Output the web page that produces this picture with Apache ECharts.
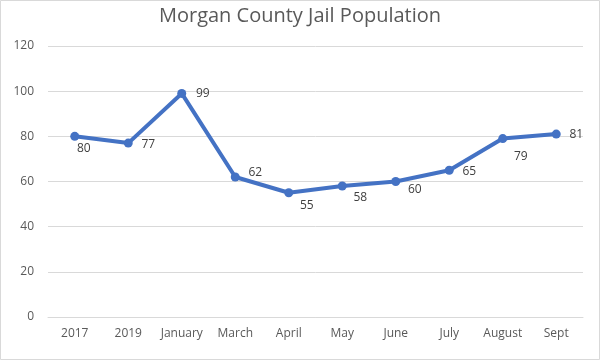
<!DOCTYPE html>
<html><head><meta charset="utf-8">
<script src="https://cdn.jsdelivr.net/npm/echarts@6/dist/echarts.min.js"></script>
<style>html,body{margin:0;padding:0;background:#fff}#c{width:600px;height:360px}</style>
</head><body><div id="c"></div>
<script>
const categories = ['2017','2019','January','March','April','May','June','July','August','Sept'];
const population = [80, 77, 99, 62, 55, 58, 60, 65, 79, 81];
const labelOffsets = [[9,12],[20,1],[21,0],[20,-4],[18,13],[18,12],[19,8],[20,1],[18,18],[20,1]];
const yTicks = {min: 0, max: 120, interval: 20};

const chart = echarts.init(document.getElementById('c'));
chart.setOption({
  animation: false,
  backgroundColor: '#fff',
  title: {
    text: 'Morgan County Jail Population',
    left: 'center', top: 1,
    textStyle: {fontFamily: 'Open Sans', fontSize: 20, fontWeight: 'normal', color: '#595959'}
  },
  graphic: [{type:'rect', shape:{x:0.5,y:0.5,width:599,height:359}, style:{fill:'none', stroke:'#d9d9d9', lineWidth:1}}],
  grid: {left: 48, right: 17, top: 46, bottom: 43},
  xAxis: {
    type: 'category', data: categories, boundaryGap: true,
    axisLine: {show: true, lineStyle: {color: '#d9d9d9'}},
    axisTick: {show: false},
    axisLabel: {color: '#595959', fontSize: 12, fontFamily: 'Open Sans', margin: 11, interval: 0}
  },
  yAxis: {
    type: 'value', min: yTicks.min, max: yTicks.max, interval: yTicks.interval,
    axisLine: {show: false}, axisTick: {show: false},
    splitLine: {lineStyle: {color: '#d9d9d9', width: 1}},
    axisLabel: {color: '#595959', fontSize: 12, fontFamily: 'Open Sans', margin: 14}
  },
  series: [{
    type: 'line',
    data: population.map((v, i) => ({
      value: v,
      label: {offset: labelOffsets[i]}
    })),
    lineStyle: {color: '#4472C4', width: 4},
    itemStyle: {color: '#4472C4'},
    symbol: 'circle', symbolSize: 9,
    label: {
      show: true, position: 'inside', align: 'center', verticalAlign: 'middle',
      color: '#404040', fontSize: 12, fontFamily: 'Open Sans'
    }
  }]
});
</script></body></html>
